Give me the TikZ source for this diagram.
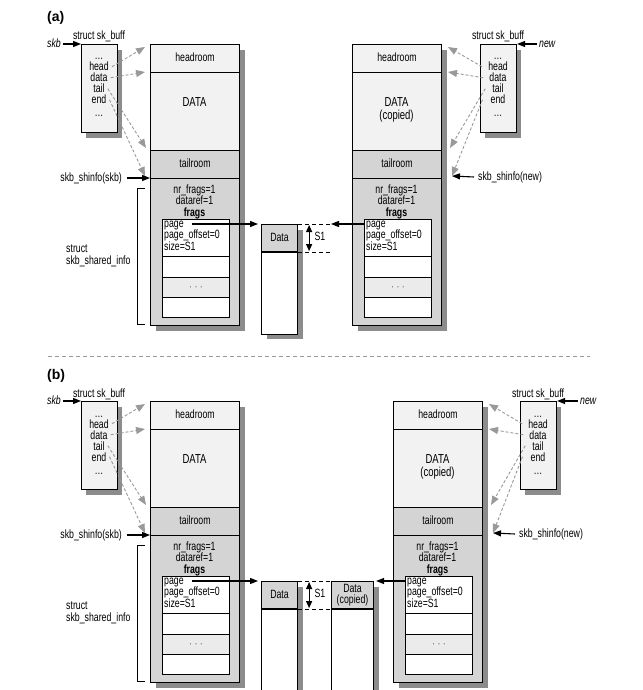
\documentclass[tikz,border=0pt]{standalone}
\usepackage{fontspec}
\setmainfont{Liberation Sans}[FakeStretch=0.73]
\newfontfamily\labelfont{Liberation Sans}
\usetikzlibrary{arrows.meta,calc,positioning}

% sk_buff box: prefix, x, y
\newcommand{\skbstruct}[3]{%
  \fill[shade] (#2+5,#3+6) rectangle ++(36,88);
  \node[lite, box={36}{88}] (#1box) at (#2,#3) {};
  \node[anchor=base] (#1lbl) at (#2+18,#3-4) {struct sk\_buff};
  \node[anchor=base] (#1d1) at (#2+18,#3+16) {\dots};
  \node[anchor=base] (#1head) at (#2+18,#3+27) {head};
  \node[anchor=base] (#1data) at (#2+18,#3+38) {data};
  \node[anchor=base] (#1tail) at (#2+18,#3+49) {tail};
  \node[anchor=base] (#1end) at (#2+18,#3+60) {end};
  \node[anchor=base] (#1d2) at (#2+18,#3+73) {\dots};
}

% data buffer with shared info: prefix, x, y, data text
\newcommand{\skbdata}[4]{%
  \fill[shade] (#2+6,#3+6) rectangle ++(89,281);
  \node[lite, txt, box={89}{28}] (#1hr) at (#2,#3) {headroom};
  \node[lite, box={89}{78}] (#1dt) at (#2,#3+28) {};
  \node[anchor=north, align=center, font=\fontsize{13}{13.5}\selectfont] (#1dtx) at (#2+44.5,#3+53) {#4};
  \node[dark, txt, box={89}{28}] (#1tr) at (#2,#3+106) {tailroom};
  \node[dark, box={89}{147}] (#1sh) at (#2,#3+134) {};
  \node[txt] (#1nr) at (#2+44.5,#3+146) {nr\_frags=1};
  \node[txt] (#1ref) at (#2+44.5,#3+157.5) {dataref=1};
  \node[txt, font=\fontsize{12}{12}\selectfont\bfseries] (#1fr) at (#2+44.5,#3+169) {frags};
  \node[row, box={67}{37}] (#1f1) at (#2+12,#3+175) {};
  \node[row, box={67}{21}] (#1f2) at (#2+12,#3+212) {};
  \node[row, txt, box={67}{20}, fill=black!8] (#1f3) at (#2+12,#3+233) {\textcolor{black!60}{· · ·}};
  \node[row, box={67}{20}] (#1f4) at (#2+12,#3+253) {};
  \node[txt, anchor=west] (#1page) at (#2+14,#3+180) {page};
  \node[txt, anchor=west] (#1off) at (#2+14,#3+191.5) {page\_offset=0};
  \node[txt, anchor=west] (#1size) at (#2+14,#3+203) {size=S1};
  \coordinate (#1p1) at (#2-5,#3+3);
  \coordinate (#1p2) at (#2-5,#3+28);
  \coordinate (#1p3) at (#2-4,#3+104);
  \coordinate (#1p4) at (#2-5,#3+132);
  \coordinate (#1q1) at (#2+96,#3+3);
  \coordinate (#1q2) at (#2+96,#3+28);
  \coordinate (#1q3) at (#2+98,#3+104);
  \coordinate (#1q4) at (#2+100,#3+132);
}

\begin{document}
\begin{tikzpicture}[x=1pt, y=-1pt,
    every node/.style={font=\fontsize{12}{12}\selectfont, inner sep=0pt},
    txt/.style={text height=8.5pt, text depth=2pt},
    box/.style 2 args={minimum width=#1pt, minimum height=#2pt, anchor=north west},
    lite/.style={draw, line width=1.1pt, fill=black!5},
    dark/.style={draw, line width=1.1pt, fill=black!17},
    row/.style={draw, line width=1.1pt, fill=white},
    shade/.style={fill=black!45},
    ptr/.style={black!40, line width=0.9pt, dash pattern=on 3pt off 2pt, -{Triangle[length=9pt, width=7pt]}},
    link/.style={line width=1.1pt, -{Triangle[length=8pt, width=6pt]}},
    both/.style={line width=1.1pt, {Triangle[length=7pt, width=6pt]}-{Triangle[length=7pt, width=6pt]}},
    dim/.style={line width=1pt, dash pattern=on 4pt off 3pt},
    sep/.style={black!40, line width=1pt, dash pattern=on 4pt off 3pt}]
\useasboundingbox (0,0) rectangle (642,690);

% (a)
\node[anchor=base west, font=\fontsize{14}{14}\labelfont\bfseries] (alab) at (47,22) {(a)};
\skbstruct{aS}{81}{44}
\skbdata{aL}{150}{44}{DATA}
\skbdata{aR}{352}{44}{DATA\\(copied)}
\skbstruct{aN}{480}{44}

\node[txt, anchor=east, font=\fontsize{12}{12}\selectfont\itshape] (askb) at (61,44) {skb};
\draw[link] ([xshift=2pt]askb.east) -- (aSbox.north west);
\node[txt, anchor=west, font=\fontsize{12}{12}\selectfont\itshape] (anew) at (539,44) {new};
\draw[link] ([xshift=-2pt]anew.west) -- (aNbox.north east);

\draw[ptr] ([xshift=3pt]aShead.east) -- (aLp1);
\draw[ptr] ([xshift=3pt]aSdata.east) -- (aLp2);
\draw[ptr] ([xshift=3pt]aStail.east) -- (aLp3);
\draw[ptr] ([xshift=3pt]aSend.east) -- (aLp4);
\draw[ptr] ([xshift=-6pt]aNhead.west) -- (aRq1);
\draw[ptr] ([xshift=-6pt]aNdata.west) -- (aRq2);
\draw[ptr] ([xshift=-7pt]aNtail.west) -- (aRq3);
\draw[ptr] ([xshift=-8pt]aNend.west) -- (aRq4);

\node[txt, anchor=east] (ashl) at (122,178) {skb\_shinfo(skb)};
\draw[link] ([xshift=5pt]ashl.east) -- (aLsh.north west);
\node[txt, anchor=west] (ashr) at (478,177) {skb\_shinfo(new)};
\draw[link] ([xshift=-4pt]ashr.west) -- (aRq4);

\draw[line width=0.9pt] (145,188) -| (137,324) -- (145,324);
\node[anchor=west, align=left] (ainfo) at (66,256) {struct\\skb\_shared\_info};

\fill[shade] (267,230) rectangle (303,339);
\node[dark, txt, box={36}{27}] (adat) at (261,224) {Data};
\node[row, box={36}{82}] (adatb) at (adat.south west) {};
\coordinate (as1r) at (331,224);
\draw[dim] (adat.north east) -- (as1r);
\draw[dim] (adat.south east) -- (adat.south east -| as1r);
\draw[both] ($(adat.north east)+(11,1)$) -- ($(adat.south east)+(11,-1)$);
\node[txt] (as1) at (320,237.5) {S1};
\draw[link, shorten >=3pt] ([xshift=8pt]aLpage.east) -- (aLpage.east -| adat.west);
\draw[link] (aRpage.west -| aRf1.west) -- (as1r);

\draw[sep] (48,356) -- (590,356);

% (b)
\node[anchor=base west, font=\fontsize{14}{14}\labelfont\bfseries] (blab) at (47,379) {(b)};
\skbstruct{bS}{81}{401}
\skbdata{bL}{150}{401}{DATA}
\skbdata{bR}{393}{401}{DATA\\(copied)}
\skbstruct{bN}{520}{401}

\node[txt, anchor=east, font=\fontsize{12}{12}\selectfont\itshape] (bskb) at (61,401) {skb};
\draw[link] ([xshift=2pt]bskb.east) -- (bSbox.north west);
\node[txt, anchor=west, font=\fontsize{12}{12}\selectfont\itshape] (bnew) at (580,401) {new};
\draw[link] ([xshift=-2pt]bnew.west) -- (bNbox.north east);

\draw[ptr] ([xshift=3pt]bShead.east) -- (bLp1);
\draw[ptr] ([xshift=3pt]bSdata.east) -- (bLp2);
\draw[ptr] ([xshift=3pt]bStail.east) -- (bLp3);
\draw[ptr] ([xshift=3pt]bSend.east) -- (bLp4);
\draw[ptr] ([xshift=-6pt]bNhead.west) -- (bRq1);
\draw[ptr] ([xshift=-6pt]bNdata.west) -- (bRq2);
\draw[ptr] ([xshift=-7pt]bNtail.west) -- (bRq3);
\draw[ptr] ([xshift=-8pt]bNend.west) -- (bRq4);

\node[txt, anchor=east] (bshl) at (122,535) {skb\_shinfo(skb)};
\draw[link] ([xshift=5pt]bshl.east) -- (bLsh.north west);
\node[txt, anchor=west] (bshr) at (519,534) {skb\_shinfo(new)};
\draw[link] ([xshift=-4pt]bshr.west) -- (bRq4);

\draw[line width=0.9pt] (145,545) -| (137,681) -- (145,681);
\node[anchor=west, align=left] (binfo) at (66,613) {struct\\skb\_shared\_info};

\fill[shade] (267,587) rectangle (303,699);
\node[dark, txt, box={36}{27}] (bdat) at (261,581) {Data};
\node[row, box={36}{85}] (bdatb) at (bdat.south west) {};
\fill[shade] (337,587) rectangle (379,699);
\node[dark, box={42}{27}, align=center, font=\fontsize{12}{11.5}\selectfont] (bcp) at (331,581) {Data\\(copied)};
\node[row, box={42}{85}] (bcpb) at (bcp.south west) {};
\draw[dim] (bdat.north east) -- (bcp.north west);
\draw[dim] (bdat.south east) -- (bcp.south west);
\draw[both] ($(bdat.north east)+(11,1)$) -- ($(bdat.south east)+(11,-1)$);
\node[txt] (bs1) at (320,594.5) {S1};
\draw[link, shorten >=3pt] ([xshift=8pt]bLpage.east) -- (bLpage.east -| bdat.west);
\draw[link, shorten >=2pt] (bRpage.west -| bRf1.west) -- (bRpage.west -| bcp.east);
\end{tikzpicture}
\end{document}
